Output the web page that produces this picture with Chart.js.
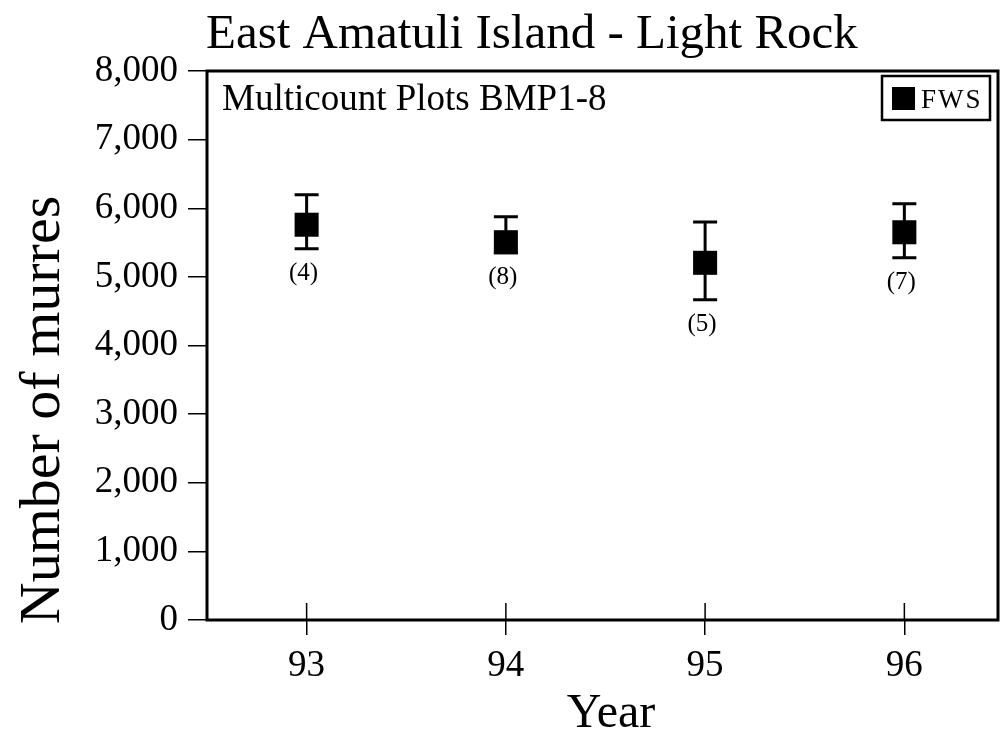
<!DOCTYPE html>
<html>
<head>
<meta charset="utf-8">
<script src="https://cdn.jsdelivr.net/npm/chart.js@4.4.1/dist/chart.umd.min.js"></script>
<style>
  body { margin: 0; background: #fff; }
  canvas { display: block; }
</style>
</head>
<body>
<canvas id="murres" width="1001" height="736"></canvas>
<script>
// data
var years = [93, 94, 95, 96];
var means = [5760, 5505, 5205, 5650];
var upper = [6195, 5875, 5800, 6065];
var lower = [5410, 5350, 4665, 5280];
var counts = ['(4)', '(8)', '(5)', '(7)'];
var yTicks = [0, 1000, 2000, 3000, 4000, 5000, 6000, 7000, 8000];

var serif = 'Liberation Serif';

// error bars + n labels, drawn under the squares
const errorBars = {
    id: 'errorBars',
    beforeDatasetsDraw(chart) {
        const c = chart.ctx, xs = chart.scales.x, ys = chart.scales.y;
        c.save();
        c.strokeStyle = '#000';
        c.lineWidth = 3;
        for (var i = 0; i < years.length; i++) {
            var x = xs.getPixelForValue(years[i]);
            var yt = ys.getPixelForValue(upper[i]);
            var yb = ys.getPixelForValue(lower[i]);
            c.beginPath();
            c.moveTo(x, yt); c.lineTo(x, yb);
            c.moveTo(x - 12, yt); c.lineTo(x + 12, yt);
            c.moveTo(x - 12, yb); c.lineTo(x + 12, yb);
            c.stroke();
            c.fillStyle = '#000';
            c.font = '25px "' + serif + '"';
            c.textAlign = 'center';
            c.textBaseline = 'middle';
            c.fillText(counts[i], x - 3, yb + 25);
        }
        c.restore();
    }
};

// frame, inner halves of the x ticks, titles, note and legend
const decorations = {
    id: 'decorations',
    afterDraw(chart) {
        const c = chart.ctx, a = chart.chartArea, xs = chart.scales.x;
        c.save();
        c.strokeStyle = '#000';
        c.lineWidth = 3;
        c.strokeRect(a.left, a.top, a.right - a.left, a.bottom - a.top);
        c.lineWidth = 1.5;
        years.forEach(function (v) {
            var x = xs.getPixelForValue(v);
            c.beginPath(); c.moveTo(x, a.bottom); c.lineTo(x, a.bottom - 17); c.stroke();
        });

        c.fillStyle = '#000';
        c.textBaseline = 'alphabetic';
        c.textAlign = 'left';
        c.font = '49px "' + serif + '"';
        c.fillText('East Amatuli Island - Light Rock', 206, 48);

        c.font = '37px "' + serif + '"';
        c.fillText('Multicount Plots BMP1-8', 222, 110);

        c.textAlign = 'center';
        c.font = '48px "' + serif + '"';
        c.fillText('Year', 611, 727);

        c.save();
        c.translate(59, 410);
        c.rotate(-Math.PI / 2);
        c.font = '58px "' + serif + '"';
        c.fillText('Number of murres', 0, 0);
        c.restore();

        // legend box
        c.lineWidth = 2.5;
        c.strokeRect(882, 76, 108, 44);
        c.fillRect(892, 87, 23, 23);
        c.textAlign = 'left';
        c.font = '27px "' + serif + '"';
        c.letterSpacing = '2px';
        c.fillText('FWS', 921, 108);
        c.restore();
    }
};

const ctx = document.getElementById('murres');
const chart = new Chart(ctx, {
    type: 'scatter',
    data: {
        datasets: [{
            label: 'FWS',
            data: years.map(function (y, i) { return { x: y, y: means[i] }; }),
            pointStyle: 'rect',
            pointRadius: 17,
            pointHoverRadius: 17,
            backgroundColor: '#000',
            borderColor: '#000',
            borderWidth: 0,
            showLine: false
        }]
    },
    options: {
        responsive: false,
        animation: false,
        events: [],
        layout: { autoPadding: false, padding: { left: 0, top: 71, right: 3, bottom: 0 } },
        plugins: {
            legend: { display: false },
            title: { display: false },
            tooltip: { enabled: false }
        },
        scales: {
            x: {
                type: 'linear',
                min: 92.5,
                max: 96.47,
                afterBuildTicks: function (scale) {
                    scale.ticks = years.map(function (v) { return { value: v }; });
                },
                afterFit: function (scale) {
                    scale.height = 116;
                    scale.paddingLeft = 0;
                    scale.paddingRight = 0;
                },
                border: { display: false },
                grid: { drawOnChartArea: false, tickLength: 15, color: '#000', lineWidth: 1.5 },
                ticks: {
                    color: '#000',
                    font: { family: serif, size: 37 },
                    padding: 9,
                    maxRotation: 0,
                    callback: function (v) { return String(v); }
                }
            },
            y: {
                min: 0,
                max: 8000,
                afterBuildTicks: function (scale) {
                    scale.ticks = yTicks.map(function (v) { return { value: v }; });
                },
                afterFit: function (scale) { scale.width = 207; },
                border: { display: false },
                grid: { drawOnChartArea: false, tickLength: 19, color: '#000', lineWidth: 1.5 },
                ticks: {
                    color: '#000',
                    font: { family: serif, size: 37 },
                    padding: 10,
                    callback: function (v) { return v.toLocaleString('en-US'); }
                }
            }
        }
    },
    plugins: [errorBars, decorations]
});
</script>
</body>
</html>
